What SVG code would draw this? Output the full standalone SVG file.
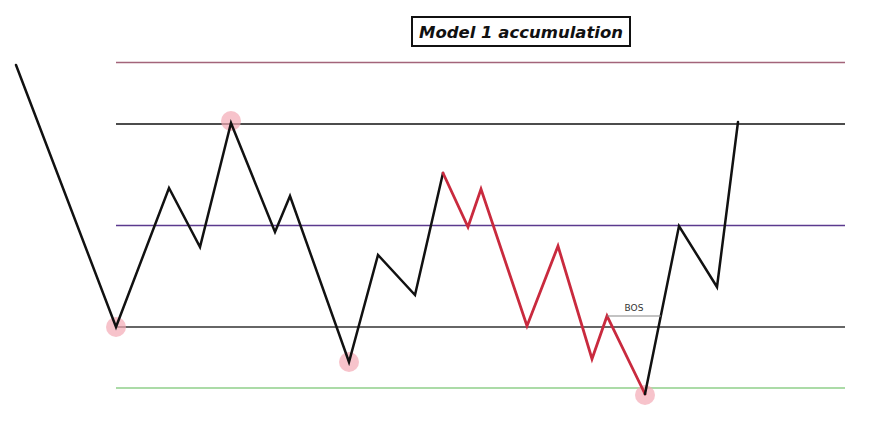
<svg xmlns="http://www.w3.org/2000/svg" width="890" height="439" viewBox="0 0 890 439">
<style>
.lvl{stroke-width:1.5;fill:none}
.wave{fill:none;stroke:#111;stroke-width:2.5;stroke-linejoin:miter;stroke-linecap:round}
.red{fill:none;stroke:#c92a3e;stroke-width:2.8;stroke-linejoin:miter;stroke-linecap:round}
.dot{fill:#f4a9b5;fill-opacity:0.7}
</style>
<rect width="890" height="439" fill="#ffffff"/>
<g id="title">
<rect x="412" y="17" width="218" height="29" fill="#fff" stroke="#111" stroke-width="2"/>
<text x="521" y="38" text-anchor="middle" font-family="DejaVu Sans, sans-serif" font-style="italic" font-weight="bold" font-size="16" fill="#111" textLength="204" lengthAdjust="spacingAndGlyphs">Model 1 accumulation</text>
</g>
<g id="levels">
<line class="lvl" x1="116" y1="62.5" x2="845" y2="62.5" stroke="#a3647a"/>
<line class="lvl" x1="116" y1="124" x2="845" y2="124" stroke="#111"/>
<line class="lvl" x1="116" y1="225.5" x2="845" y2="225.5" stroke="#5b3a8e"/>
<line class="lvl" x1="116" y1="327" x2="845" y2="327" stroke="#333"/>
<line class="lvl" x1="116" y1="388" x2="845" y2="388" stroke="#8fcf8a"/>
</g>
<g id="pivots">
<circle class="dot" cx="116" cy="327" r="10"/>
<circle class="dot" cx="231" cy="121" r="10"/>
<circle class="dot" cx="349" cy="362" r="10"/>
<circle class="dot" cx="645" cy="395" r="10"/>
</g>
<g id="connectors">
<polyline class="wave" points="16,65 116,327 169,188 200,247 231,123 275,232 290,196 349,362 378,255 415,295 443,173"/>
<polyline class="red" points="443,173 468,227 481,189 527,326 558,246 592,359 607,316 645,394"/>
<polyline class="wave" points="645,394 679,226 717,287 738,122"/>
<line x1="607" y1="316" x2="661" y2="316" stroke="#888" stroke-width="1.2"/>
</g>
<g id="bos">
<text x="634" y="311" text-anchor="middle" font-family="DejaVu Sans, sans-serif" font-size="9" fill="#333">BOS</text>
</g>
</svg>
